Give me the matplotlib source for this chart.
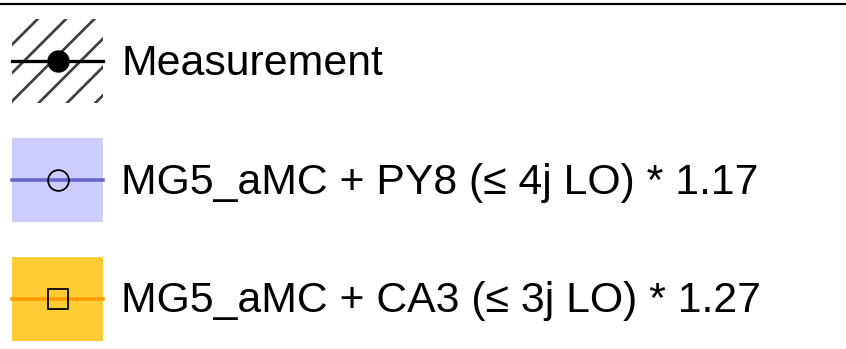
import matplotlib
matplotlib.use("Agg")
import matplotlib.pyplot as plt
from matplotlib.patches import Patch, Rectangle
from matplotlib.lines import Line2D
from matplotlib.legend_handler import HandlerBase

labels = ["Measurement",
          "MG5_aMC + PY8 (\u2264 4j LO) * 1.17",
          "MG5_aMC + CA3 (\u2264 3j LO) * 1.27"]
fill_colors = ["none", "#ccccff", "#ffcc33"]
line_colors = ["black", "#6666cc", "#ff9900"]
markers = ["o", "o", "s"]
marker_faces = ["black", "none", "none"]

DPI = 170
plt.rcParams["font.family"] = ["Liberation Sans", "DejaVu Sans"]
plt.rcParams["hatch.linewidth"] = 1.15
plt.rcParams["hatch.color"] = "#404040"


class BandLineHandler(HandlerBase):
    def create_artists(self, legend, orig_handle, xdescent, ydescent,
                       width, height, fontsize, trans):
        p, ln = orig_handle
        rect = Rectangle((-xdescent, -ydescent), width, height)
        rect.update_from(p)
        rect.set_transform(trans)
        yc = -ydescent + height / 2
        x0 = -xdescent
        line = Line2D([x0, x0 + width / 2, x0 + width], [yc, yc, yc])
        line.update_from(ln)
        line.set_markevery([1])
        line.set_transform(trans)
        return [rect, line]


fig = plt.figure(figsize=(846 / DPI, 350 / DPI), dpi=DPI)
ax = fig.add_axes([0, 0, 1, 1 - 4.5 / 350])
ax.set_xticks([])
ax.set_yticks([])
for s in ["left", "right", "bottom"]:
    ax.spines[s].set_visible(False)
ax.spines["top"].set_linewidth(0.9)
ax.patch.set_alpha(0)

handles = []
for i in range(3):
    if i == 0:
        p = Patch(facecolor="none", edgecolor="#404040", hatch="//", linewidth=0)
    else:
        p = Patch(facecolor=fill_colors[i], edgecolor="none", linewidth=0)
    ln = Line2D([], [], color=line_colors[i], lw=1.5 if i else 1.4,
                marker=markers[i], markersize=8.5 if i == 0 else 8.8,
                markerfacecolor=marker_faces[i], markeredgecolor="black",
                markeredgewidth=0.75 if i else 1.0)
    handles.append((p, ln))

leg = fig.legend(handles, labels, loc="upper left",
                 bbox_to_anchor=(12 / 846, 1 - 20 / 350),
                 frameon=False, fontsize=18.1, borderpad=0, borderaxespad=0,
                 handlelength=2.13, handleheight=2.64, labelspacing=0.82,
                 handletextpad=0.43,
                 handler_map={tuple: BandLineHandler()})

fig.savefig("out.png", dpi=DPI)
